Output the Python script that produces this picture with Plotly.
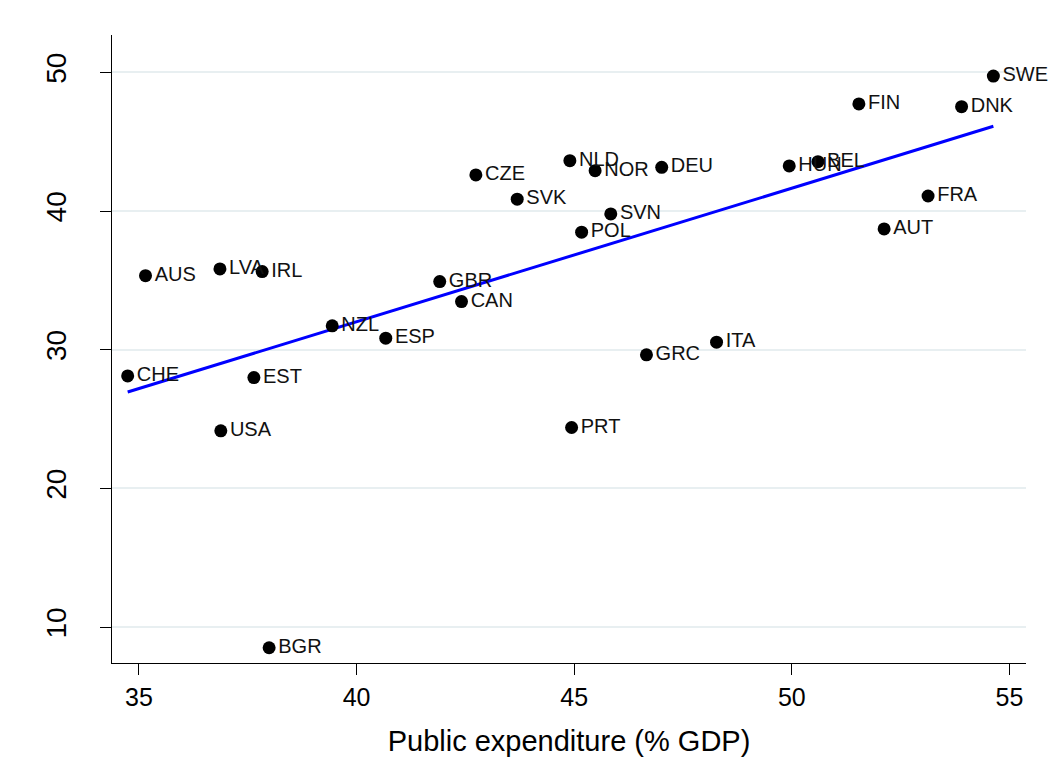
import numpy as np
import plotly.graph_objects as go

countries = ["AUS", "LVA", "IRL", "GBR", "CAN", "NZL", "ESP", "CHE", "EST", "USA",
             "CZE", "NLD", "NOR", "DEU", "SVK", "SVN", "POL", "HUN", "BEL", "AUT",
             "SWE", "FIN", "DNK", "FRA", "GRC", "ITA", "PRT", "BGR"]
expenditure = [35.15, 36.86, 37.83, 41.91, 42.41, 39.44, 40.67, 34.74, 37.64, 36.88,
               42.74, 44.90, 45.48, 47.01, 43.69, 45.84, 45.17, 49.94, 50.60, 52.12,
               54.63, 51.54, 53.90, 53.13, 46.66, 48.27, 44.94, 37.99]
yvalue = [35.34, 35.82, 35.63, 34.91, 33.47, 31.72, 30.83, 28.11, 27.99, 24.15,
          42.60, 43.63, 42.91, 43.15, 40.85, 39.79, 38.47, 43.25, 43.56, 38.71,
          49.73, 47.72, 47.52, 41.08, 29.63, 30.54, 24.39, 8.51]
x_ticks = [35, 40, 45, 50, 55]
y_ticks = [10, 20, 30, 40, 50]

# page body has an 8px default margin, so the figure is laid out 8px up/left
OFF = 8
W, H = 1057 - OFF, 769 - OFF
L, R, T, B = 112 - OFF, 1025.7 - OFF, 35 - OFF, 663.3 - OFF

xs = np.array(expenditure)
ys = np.array(yvalue)
slope, intercept = np.polyfit(xs, ys, 1)
fit_x = [xs.min(), xs.max()]
fit_y = [intercept + slope * v for v in fit_x]

fig = go.Figure()
fig.add_trace(go.Scatter(
    x=fit_x, y=fit_y, mode="lines",
    line=dict(color="#0000ff", width=3),
    hoverinfo="skip", showlegend=False,
))
fig.add_trace(go.Scatter(
    x=expenditure, y=yvalue, mode="markers+text",
    text=countries, textposition="middle right",
    marker=dict(color="black", size=13),
    textfont=dict(family="Liberation Sans, Arial, sans-serif", size=20, color="#111111"),
    showlegend=False, cliponaxis=False,
))

pw = R - L
ph = B - T
# faint outer graph-region border
fig.add_shape(type="rect", xref="paper", yref="paper",
              x0=(5 - OFF - L) / pw, x1=(1050 - OFF - L) / pw,
              y0=(B - 800) / ph, y1=(B - (7 - OFF)) / ph,
              line=dict(color="#e9eff2", width=1.5), fillcolor="rgba(0,0,0,0)", layer="below")

fig.update_layout(
    width=W, height=H,
    margin=dict(l=L, r=W - R, t=T, b=H - B, pad=0),
    paper_bgcolor="white", plot_bgcolor="white",
    font=dict(family="Liberation Sans, Arial, sans-serif", color="black"),
    xaxis=dict(
        range=[34.38, 55.38], tickvals=x_ticks, ticktext=[str(v) for v in x_ticks],
        showgrid=False, zeroline=False,
        showline=True, linecolor="black", linewidth=1.3,
        ticks="outside", ticklen=11, tickwidth=1.3, tickcolor="black",
        tickfont=dict(size=25, color="black"),
        ticklabelstandoff=1,
        title=dict(text="Public expenditure (% GDP)", font=dict(size=29, color="black"), standoff=20),
    ),
    yaxis=dict(
        range=[7.41, 52.69], tickvals=y_ticks, ticktext=[str(v) for v in y_ticks],
        showgrid=True, gridcolor="#e8eff1", gridwidth=2, zeroline=False,
        showline=True, linecolor="black", linewidth=1.3,
        ticks="outside", ticklen=11, tickwidth=1.3, tickcolor="black",
        tickfont=dict(size=28, color="black"), tickangle=-90,
        ticklabelstandoff=23,
    ),
)

fig.write_html("out.html")
